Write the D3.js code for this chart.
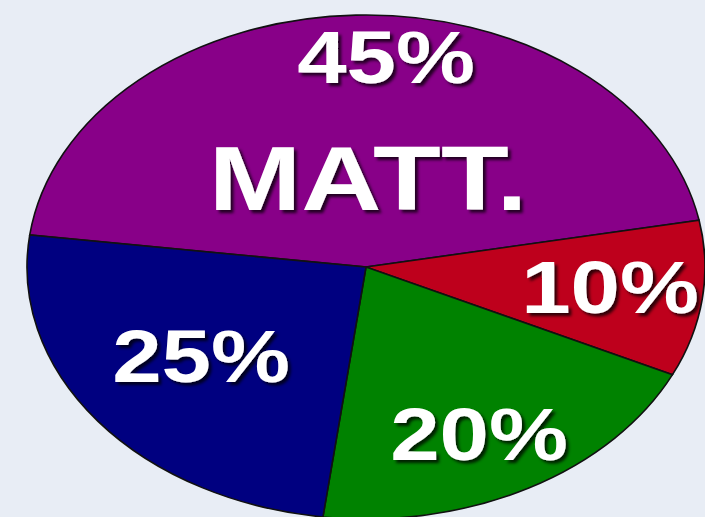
<!DOCTYPE html>
<html>
<head>
<meta charset="utf-8">
<script src="https://cdn.jsdelivr.net/npm/d3@7"></script>
<style>
  html, body { margin: 0; padding: 0; background: #e8edf5; }
  svg { display: block; }
</style>
</head>
<body>
<svg id="chart" width="705" height="517"></svg>
<script>
// ---- data ----
const categories = ["A", "B", "C", "D"];
const values = [45, 10, 20, 25];
const labels = ["45%", "10%", "20%", "25%"];
const colors = ["#880088", "#be001c", "#008200", "#000080"];
const title = "MATT.";

// ---- layout ----
const W = 705, H = 517;
const cx = 366, cy = 267, rx = 339, ry = 252;
const startDeg = -82.7;
const labelPos = [[386, 83], [610, 313], [479, 460], [201, 382]]; // text baselines
const titlePos = [368, 210];

const svg = d3.select("#chart");
svg.append("rect").attr("width", W).attr("height", H).attr("fill", "#e8edf5");

const defs = svg.append("defs");
const f = defs.append("filter").attr("id", "shadow")
  .attr("x", "-20%").attr("y", "-20%").attr("width", "140%").attr("height", "140%");
f.append("feDropShadow").attr("dx", 3).attr("dy", 3).attr("stdDeviation", 1.5)
  .attr("flood-color", "#000").attr("flood-opacity", 0.75);

const pie = d3.pie().sort(null).value(d => d.v)
  .startAngle(startDeg * Math.PI / 180)
  .endAngle(startDeg * Math.PI / 180 + 2 * Math.PI);
const arc = d3.arc().innerRadius(0).outerRadius(ry);

const data = categories.map((c, i) => ({ c, v: values[i], label: labels[i], color: colors[i] }));

const g = svg.append("g")
  .attr("transform", `translate(${cx},${cy}) scale(${rx / ry},1)`);

g.selectAll("path").data(pie(data)).join("path")
  .attr("d", arc)
  .attr("fill", d => d.data.color)
  .attr("stroke", "#111")
  .attr("stroke-width", 1.6)
  .attr("vector-effect", "non-scaling-stroke");

const textG = svg.append("g")
  .attr("font-family", "'Liberation Sans', Arial, sans-serif")
  .attr("font-weight", "bold")
  .attr("fill", "#ffffff")
  .attr("text-anchor", "middle")
  .attr("filter", "url(#shadow)");

textG.selectAll("text.lbl").data(data).join("text")
  .attr("class", "lbl")
  .attr("transform", (d, i) => `translate(${labelPos[i][0]},${labelPos[i][1]}) scale(1.2,1)`)
  .attr("font-size", 74)
  .text(d => d.label);

textG.append("text")
  .attr("transform", `translate(${titlePos[0]},${titlePos[1]}) scale(1.22,1)`)
  .attr("font-size", 91)
  .text(title);
</script>
</body>
</html>
